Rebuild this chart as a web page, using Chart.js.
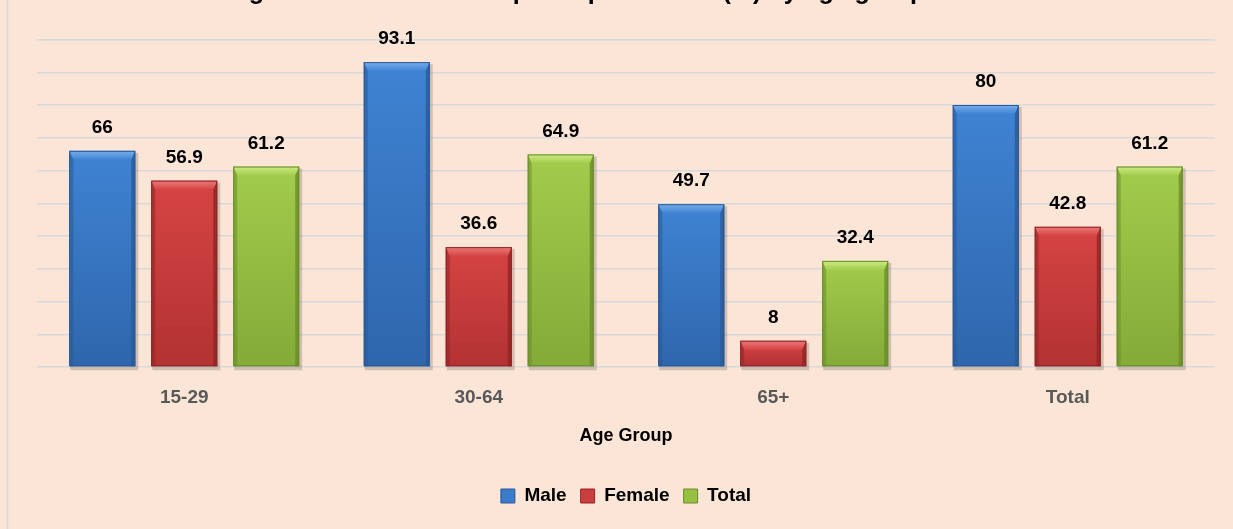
<!DOCTYPE html>
<html>
<head>
<meta charset="utf-8">
<script src="https://cdn.jsdelivr.net/npm/chart.js@4"></script>
<style>
  html, body { margin: 0; padding: 0; background: #FBE5D6; }
  #wrap { width: 1233px; height: 529px; }
</style>
</head>
<body>
<div id="wrap"><canvas id="lfprChart" width="1233" height="529"></canvas></div>
<script>
// data
const ageGroups = ['15-29', '30-64', '65+', 'Total'];
const maleValues = [66, 93.1, 49.7, 80];
const femaleValues = [56.9, 36.6, 8, 42.8];
const totalValues = [61.2, 64.9, 32.4, 61.2];
const seriesNames = ['Male', 'Female', 'Total'];

const FONT = "'Liberation Sans', Arial, sans-serif";

// face / light bevel / dark edge per series
const shades = [
    { face: '#3B7BC9', top: '#3F83D3', bottom: '#2F66AC', light: '#79AEEA', dark: '#2A5A96' },
    { face: '#CC3D3D', top: '#D64444', bottom: '#B33232', light: '#EC7A7A', dark: '#8E2626' },
    { face: '#96C043', top: '#A2CC4C', bottom: '#84AA38', light: '#CDEB86', dark: '#6A8C2A' }
];

// page background + left frame line
const backgroundPlugin = {
    id: 'bg',
    beforeDraw(chart) {
        const c = chart.ctx;
        c.save();
        c.fillStyle = '#FBE5D6';
        c.fillRect(0, 0, chart.width, chart.height);
        c.strokeStyle = '#D9D9D9';
        c.lineWidth = 1.5;
        c.beginPath();
        c.moveTo(7.5, 0);
        c.lineTo(7.5, chart.height);
        c.stroke();
        c.restore();
    }
};

// bevelled bars + value labels on top
const bevelPlugin = {
    id: 'bevel',
    afterDatasetsDraw(chart) {
        const c = chart.ctx;
        chart.data.datasets.forEach((ds, di) => {
            const s = shades[di];
            chart.getDatasetMeta(di).data.forEach((bar, i) => {
                const p = bar.getProps(['x', 'y', 'base', 'width'], true);
                const L = p.x - p.width / 2, R = p.x + p.width / 2;
                const T = p.y, B = p.base;
                const bt = Math.min(9, (B - T) / 2), bs = 4;
                c.save();
                // shadow
                c.fillStyle = 'rgba(90,80,70,0.25)';
                c.fillRect(L + 1, T + 2, p.width + 2, B - T + 2);
                // face
                const g = c.createLinearGradient(0, T, 0, B);
                g.addColorStop(0, s.top);
                g.addColorStop(1, s.bottom);
                c.fillStyle = g;
                c.fillRect(L, T, p.width, B - T);
                // top bevel
                const tg = c.createLinearGradient(0, T, 0, T + bt);
                tg.addColorStop(0, s.light);
                tg.addColorStop(1, s.top);
                c.fillStyle = tg;
                c.beginPath();
                c.moveTo(L, T); c.lineTo(R, T); c.lineTo(R - bs, T + bt); c.lineTo(L + bs, T + bt);
                c.closePath(); c.fill();
                // side bevels
                c.fillStyle = s.dark;
                c.globalAlpha = 0.55;
                c.beginPath();
                c.moveTo(L, T); c.lineTo(L + bs, T + bt); c.lineTo(L + bs, B); c.lineTo(L, B);
                c.closePath(); c.fill();
                c.globalAlpha = 0.8;
                c.beginPath();
                c.moveTo(R, T); c.lineTo(R - bs, T + bt); c.lineTo(R - bs, B); c.lineTo(R, B);
                c.closePath(); c.fill();
                c.globalAlpha = 1;
                c.strokeStyle = s.dark;
                c.lineWidth = 1;
                c.strokeRect(L + 0.5, T + 0.5, p.width - 1, B - T - 1);
                // value label
                c.fillStyle = '#000';
                c.font = 'bold 19px ' + FONT;
                c.textAlign = 'center';
                c.textBaseline = 'middle';
                c.fillText(String(ds.data[i]), p.x, T - 23);
                c.restore();
            });
        });
    }
};

const ctx = document.getElementById('lfprChart').getContext('2d');
const lfprChart = new Chart(ctx, {
    type: 'bar',
    data: {
        labels: ageGroups,
        datasets: [
            { label: seriesNames[0], data: maleValues, backgroundColor: shades[0].face, borderColor: shades[0].dark, borderWidth: 1 },
            { label: seriesNames[1], data: femaleValues, backgroundColor: shades[1].face, borderColor: shades[1].dark, borderWidth: 1 },
            { label: seriesNames[2], data: totalValues, backgroundColor: shades[2].face, borderColor: shades[2].dark, borderWidth: 1 }
        ]
    },
    options: {
        responsive: false,
        animation: false,
        categoryPercentage: 0.835,
        barPercentage: 0.805,
        layout: { padding: { left: 37, right: 18, top: 0, bottom: 13.5 } },
        plugins: {
            title: {
                display: true,
                text: 'Figure 10: Labour force participation rate (%) by age group and sex',
                color: '#000',
                font: { family: FONT, size: 25, weight: 'bold' },
                padding: { top: -23, bottom: 32.5 }
            },
            legend: {
                position: 'bottom',
                labels: {
                    boxWidth: 14,
                    boxHeight: 14,
                    padding: 14,
                    color: '#000',
                    font: { family: FONT, size: 19, weight: 'bold' }
                }
            },
            tooltip: { enabled: false }
        },
        scales: {
            x: {
                grid: { display: false },
                border: { display: false },
                ticks: { color: '#595959', padding: 11.5, font: { family: FONT, size: 19, weight: 'bold' } },
                title: {
                    display: true,
                    text: 'Age Group',
                    color: '#000',
                    font: { family: FONT, size: 18, weight: 'bold' },
                    padding: { top: 4.5, bottom: 25.6 }
                }
            },
            y: {
                min: 0,
                max: 100,
                ticks: { display: false, stepSize: 10 },
                border: { display: false },
                grid: { color: '#D9D9D9', lineWidth: 1.5, drawTicks: false }
            }
        }
    },
    plugins: [backgroundPlugin, bevelPlugin]
});
</script>
</body>
</html>
